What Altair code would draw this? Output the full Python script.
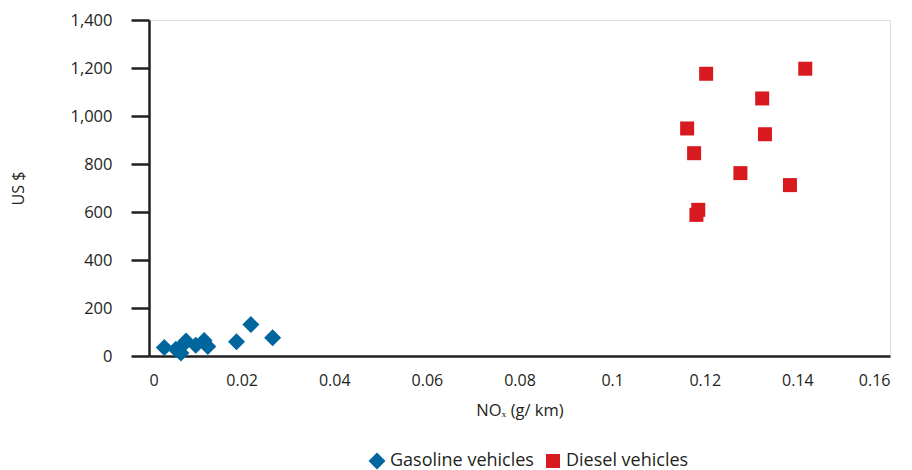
import altair as alt
import pandas as pd

gas_x = [0.0033, 0.0058, 0.0069, 0.0075, 0.0080, 0.0101, 0.0119, 0.0127, 0.0189, 0.0220, 0.0267]
gas_y = [35, 28, 12, 50, 62, 45, 65, 40, 59, 131, 76]
die_x = [0.1203, 0.1417, 0.1324, 0.1162, 0.1330, 0.1177, 0.1277, 0.1384, 0.1186, 0.1182]
die_y = [1176, 1197, 1073, 948, 924, 845, 762, 712, 609, 588]
series = ["Gasoline vehicles", "Diesel vehicles"]
x_ticks = [0, 0.02, 0.04, 0.06, 0.08, 0.1, 0.12, 0.14, 0.16]
y_ticks = [0, 200, 400, 600, 800, 1000, 1200, 1400]

df = pd.DataFrame({
    "x": gas_x + die_x,
    "y": gas_y + die_y,
    "s": [series[0]] * len(gas_x) + [series[1]] * len(die_x),
})

FONT = "Open Sans"
TXT = "#231f20"

legend_common = dict(title=None, orient="none", legendX=219, legendY=432, direction="horizontal")

chart = alt.Chart(df).mark_point(filled=True, opacity=1, strokeWidth=0).encode(
    x=alt.X("x:Q", scale=alt.Scale(domain=[0, 0.16], nice=False, zero=True),
            axis=alt.Axis(values=x_ticks, title="NOₓ (g/ km)", grid=False, ticks=False,
                          labelPadding=16, labelFontSize=16, labelFont=FONT, labelColor=TXT,
                          labelExpr="datum.value == 0 ? '0' : format(datum.value, '.2~f')",
                          titleFontSize=16.5, titleFont=FONT, titleFontWeight="normal", titleColor=TXT,
                          titlePadding=14, domainColor=TXT, domainWidth=2.5)),
    y=alt.Y("y:Q", scale=alt.Scale(domain=[0, 1400], nice=False),
            axis=alt.Axis(values=y_ticks, title="US $", grid=False, format=",.0f",
                          tickSize=18, tickWidth=2.5, tickColor=TXT, labelPadding=19,
                          labelFontSize=16.5, labelFont=FONT, labelColor=TXT,
                          titleFontSize=16, titleFont=FONT, titleFontWeight="normal", titleColor=TXT,
                          titleX=-131, titleY=168, titleAngle=-90, titleAlign="center",
                          titleBaseline="middle", domainColor=TXT, domainWidth=2.5)),
    color=alt.Color("s:N", scale=alt.Scale(domain=series, range=["#00669e", "#d81920"]),
                    legend=alt.Legend(labelFontSize=18, labelFont=FONT, labelColor=TXT,
                                      labelOffset=4, columnPadding=10,
                                      symbolStrokeWidth=0, symbolOpacity=1, **legend_common)),
    shape=alt.Shape("s:N", scale=alt.Scale(domain=series, range=["diamond", "square"]),
                    legend=alt.Legend(**legend_common)),
    size=alt.Size("s:N", scale=alt.Scale(domain=series, range=[289, 196]),
                  legend=alt.Legend(**legend_common)),
).properties(
    width=741, height=336,
    autosize=alt.AutoSizeParams(type="none"),
    padding={"left": 141, "top": 12, "right": 14, "bottom": 114},
).configure_view(stroke=None).configure(background="white")

chart.save("out.html", embed_options={"renderer": "svg", "actions": False})
